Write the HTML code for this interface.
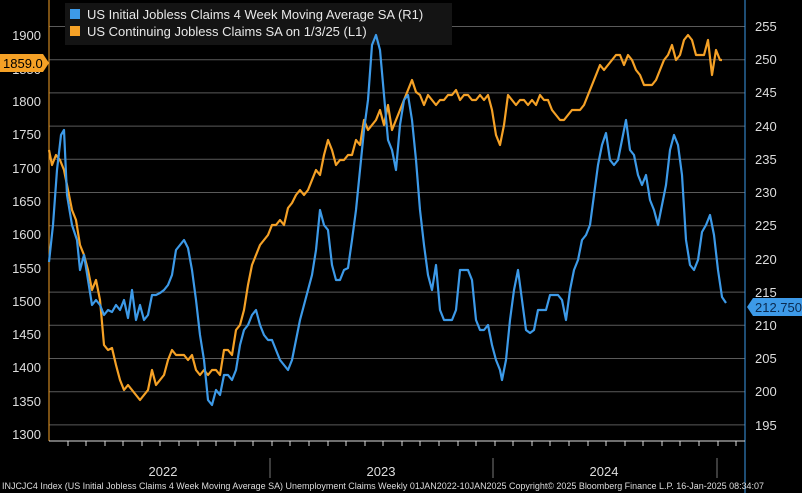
<!DOCTYPE html>
<html><head><meta charset="utf-8"><style>
html,body{margin:0;padding:0;background:#000;width:802px;height:493px;overflow:hidden}
svg{display:block;font-family:"Liberation Sans",sans-serif}
</style></head><body>
<svg width="802" height="493" viewBox="0 0 802 493">
<rect width="802" height="493" fill="#000"/>
<g stroke="#5a5a5a" stroke-width="1">
<line x1="49" x2="745" y1="26.5" y2="26.5"/><line x1="49" x2="745" y1="59.7" y2="59.7"/>
<line x1="49" x2="745" y1="92.9" y2="92.9"/><line x1="49" x2="745" y1="126.1" y2="126.1"/>
<line x1="49" x2="745" y1="159.3" y2="159.3"/><line x1="49" x2="745" y1="192.5" y2="192.5"/>
<line x1="49" x2="745" y1="225.7" y2="225.7"/><line x1="49" x2="745" y1="258.9" y2="258.9"/>
<line x1="49" x2="745" y1="292.1" y2="292.1"/><line x1="49" x2="745" y1="325.3" y2="325.3"/>
<line x1="49" x2="745" y1="358.5" y2="358.5"/><line x1="49" x2="745" y1="391.7" y2="391.7"/>
<line x1="49" x2="745" y1="424.9" y2="424.9"/>
</g>
<rect x="65" y="3" width="387" height="42" fill="#141414"/>
<rect x="70" y="9" width="10" height="10" fill="#3d9ae8"/>
<rect x="70" y="26" width="10" height="10" fill="#f5a126"/>
<g fill="#e8e8e8" font-size="13">
<text x="87" y="19">US Initial Jobless Claims 4 Week Moving Average SA  (R1)</text>
<text x="87" y="36">US Continuing Jobless Claims SA  on 1/3/25 (L1)</text>
</g>
<line x1="49" y1="0" x2="49" y2="441" stroke="#f5a126"/>
<line x1="745" y1="0" x2="745" y2="493" stroke="#3d9ae8"/>
<line x1="49" y1="441" x2="745" y2="441" stroke="#ddd"/>
<g fill="#ddd" font-size="13" text-anchor="end">
<text x="41" y="40">1900</text><text x="41" y="74">1850</text><text x="41" y="106">1800</text>
<text x="41" y="139">1750</text><text x="41" y="173">1700</text><text x="41" y="206">1650</text>
<text x="41" y="239">1600</text><text x="41" y="273">1550</text><text x="41" y="306">1500</text>
<text x="41" y="339">1450</text><text x="41" y="372">1400</text><text x="41" y="406">1350</text>
<text x="41" y="439">1300</text>
</g>
<rect x="0" y="54" width="43" height="18" fill="#f5a126"/>
<polygon points="43,54 49,63 43,72" fill="#f5a126"/>
<text x="3" y="68" font-size="13" fill="#000">1859.0</text>
<g fill="#ddd" font-size="13">
<text x="755" y="31">255</text><text x="755" y="64">250</text><text x="755" y="97">245</text>
<text x="755" y="131">240</text><text x="755" y="164">235</text><text x="755" y="197">230</text>
<text x="755" y="230">225</text><text x="755" y="264">220</text><text x="755" y="297">215</text>
<text x="755" y="330">210</text><text x="755" y="363">205</text><text x="755" y="396">200</text>
<text x="755" y="430">195</text>
</g>
<rect x="753" y="298" width="49" height="18" fill="#3d9ae8"/>
<polygon points="753,298 747,307 753,316" fill="#3d9ae8"/>
<text x="755" y="312" font-size="13" fill="#0a2a50">212.750</text>
<g stroke="#ddd">
<line x1="68" x2="68" y1="441" y2="446"/><line x1="86" x2="86" y1="441" y2="446"/><line x1="105" x2="105" y1="441" y2="446"/><line x1="123" x2="123" y1="441" y2="446"/><line x1="142" x2="142" y1="441" y2="446"/><line x1="160" x2="160" y1="441" y2="446"/><line x1="179" x2="179" y1="441" y2="446"/><line x1="198" x2="198" y1="441" y2="446"/><line x1="216" x2="216" y1="441" y2="446"/><line x1="235" x2="235" y1="441" y2="446"/><line x1="253" x2="253" y1="441" y2="446"/><line x1="272" x2="272" y1="441" y2="446"/><line x1="290" x2="290" y1="441" y2="446"/><line x1="309" x2="309" y1="441" y2="446"/><line x1="328" x2="328" y1="441" y2="446"/><line x1="346" x2="346" y1="441" y2="446"/><line x1="365" x2="365" y1="441" y2="446"/><line x1="383" x2="383" y1="441" y2="446"/><line x1="402" x2="402" y1="441" y2="446"/><line x1="420" x2="420" y1="441" y2="446"/><line x1="439" x2="439" y1="441" y2="446"/><line x1="458" x2="458" y1="441" y2="446"/><line x1="476" x2="476" y1="441" y2="446"/><line x1="495" x2="495" y1="441" y2="446"/><line x1="513" x2="513" y1="441" y2="446"/><line x1="532" x2="532" y1="441" y2="446"/><line x1="550" x2="550" y1="441" y2="446"/><line x1="569" x2="569" y1="441" y2="446"/><line x1="588" x2="588" y1="441" y2="446"/><line x1="606" x2="606" y1="441" y2="446"/><line x1="625" x2="625" y1="441" y2="446"/><line x1="643" x2="643" y1="441" y2="446"/><line x1="662" x2="662" y1="441" y2="446"/><line x1="680" x2="680" y1="441" y2="446"/><line x1="699" x2="699" y1="441" y2="446"/><line x1="718" x2="718" y1="441" y2="446"/><line x1="736" x2="736" y1="441" y2="446"/>
</g>
<g stroke="#777"><line x1="270" x2="270" y1="458" y2="478"/><line x1="493" x2="493" y1="458" y2="478"/><line x1="717" x2="717" y1="458" y2="478"/></g>
<g fill="#ddd" font-size="13" text-anchor="middle">
<text x="163" y="476">2022</text><text x="381" y="476">2023</text><text x="604" y="476">2024</text>
</g>
<text x="2" y="489" font-size="9" fill="#ddd" textLength="762" lengthAdjust="spacingAndGlyphs">INJCJC4 Index (US Initial Jobless Claims 4 Week Moving Average SA) Unemployment Claims  Weekly 01JAN2022-10JAN2025     Copyright© 2025 Bloomberg Finance L.P.     16-Jan-2025 08:34:07</text>
<polyline fill="none" stroke="#f5a126" stroke-width="2.2" stroke-linejoin="round" points="49,150 52,165 56,155 60,160 64,170 68,190 72,210 76,220 80,245 84,255 88,270 92,290 96,280 100,300 104,345 108,350 112,348 116,365 120,380 124,390 128,385 132,390 136,395 140,400 144,395 148,390 152,370 156,385 160,380 164,375 168,360 172,350 176,355 180,355 184,355 188,360 192,355 196,370 200,375 204,370 208,375 212,370 216,370 220,375 224,350 228,350 232,355 236,330 240,325 244,310 248,285 252,265 256,255 260,245 264,240 268,235 272,225 276,225 280,220 284,225 288,208 292,203 296,195 300,190 304,195 308,190 312,180 316,170 320,175 324,155 328,140 332,150 336,165 340,160 344,160 348,155 352,155 356,140 360,145 364,120 368,130 372,125 376,120 380,110 384,125 388,105 392,130 396,120 400,110 404,100 408,90 412,80 416,92 420,95 424,105 428,95 432,100 436,105 440,100 444,100 448,95 452,95 456,90 460,100 464,95 468,95 472,100 476,100 480,95 484,100 488,95 492,110 496,135 500,145 504,125 508,95 512,100 516,105 520,100 524,100 528,105 532,100 536,105 540,95 544,100 548,100 552,110 556,115 560,120 564,120 568,115 572,110 576,110 580,110 584,105 588,95 592,85 596,75 600,65 604,70 608,65 612,60 616,55 620,55 624,65 628,55 632,60 636,70 640,75 644,85 648,85 652,85 656,80 660,70 664,60 668,55 672,45 676,60 680,55 684,40 688,35 692,40 696,55 700,55 704,55 708,40 712,75 716,50 720,60 722,60"/>
<polyline fill="none" stroke="#3d9ae8" stroke-width="2.2" stroke-linejoin="round" points="49,262 53,225 57,170 61,135 64,130 67,195 72,225 77,240 80,270 84,255 88,280 92,305 96,300 100,305 104,315 108,310 112,312 116,305 120,310 124,300 128,318 132,290 136,320 140,305 144,320 148,315 152,295 156,295 160,293 164,290 168,285 172,275 176,250 180,245 184,240 188,248 192,270 196,300 200,335 204,360 208,400 212,405 216,390 220,395 224,375 228,375 232,380 236,370 240,345 244,330 248,325 252,315 256,310 260,325 264,335 268,340 272,340 276,350 280,360 284,365 288,370 292,360 296,340 300,320 304,305 308,290 312,275 316,250 320,210 324,225 328,230 332,265 336,280 340,280 344,270 348,268 352,240 356,210 360,170 364,130 368,100 372,45 376,35 380,50 384,95 388,140 392,150 396,170 400,125 404,100 408,95 412,120 416,160 420,210 424,245 428,275 432,290 436,265 440,310 444,320 448,320 452,320 456,310 460,270 464,270 468,270 472,280 476,320 480,330 484,330 488,325 492,345 496,360 500,370 502,380 506,360 510,320 514,290 518,270 522,300 526,330 530,333 534,330 538,310 542,310 546,310 550,295 554,295 558,295 562,300 566,320 570,290 574,270 578,260 582,240 586,235 590,225 594,195 598,165 602,145 606,133 610,160 614,165 618,160 622,140 626,120 630,150 634,155 638,175 642,185 646,175 650,200 654,210 658,225 662,205 666,185 670,150 674,135 678,145 682,175 686,240 690,265 694,270 698,260 702,232 706,225 710,215 714,235 718,270 722,297 726,303"/>
</svg>
</body></html>
